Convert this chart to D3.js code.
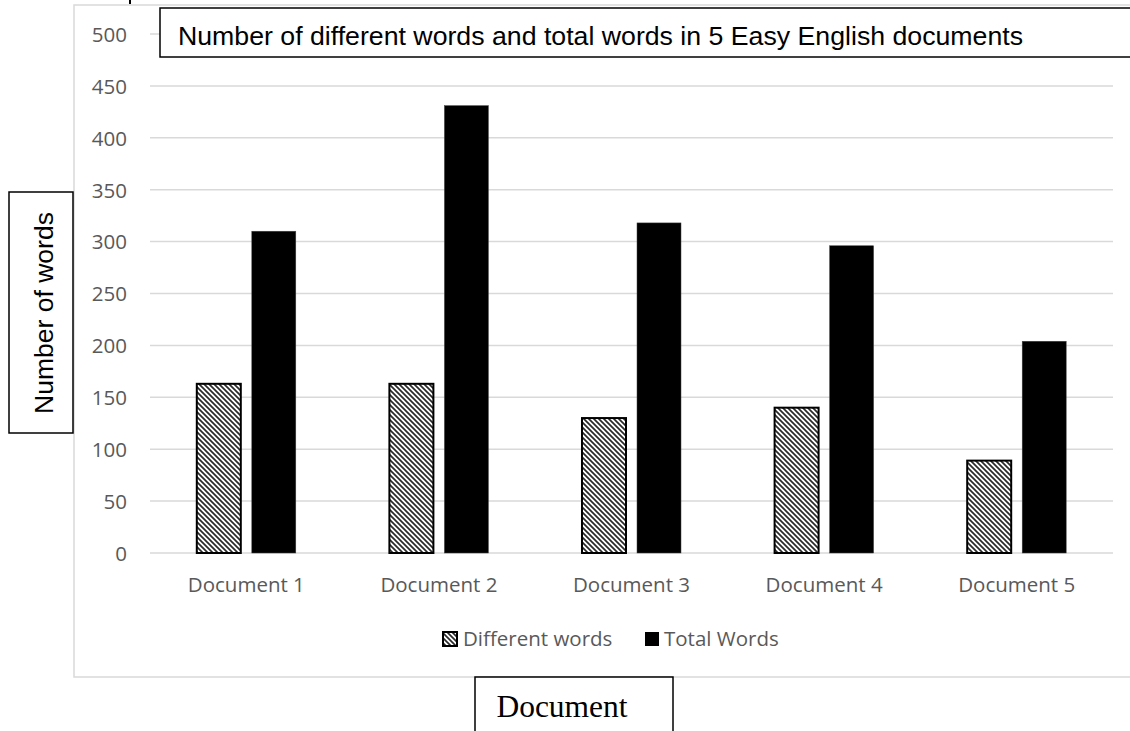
<!DOCTYPE html>
<html>
<head>
<meta charset="utf-8">
<script src="https://cdn.jsdelivr.net/npm/d3@7"></script>
<style>
html,body{margin:0;padding:0;background:#fff;}
svg{display:block;}
</style>
</head>
<body>
<script>
const categories = ["Document 1","Document 2","Document 3","Document 4","Document 5"];
const seriesNames = ["Different words","Total Words"];
const differentWords = [163,163,130,140,89];
const totalWords = [310,431,318,296,204];
const yTicks = [0,50,100,150,200,250,300,350,400,450,500];
const chartTitle = "Number of different words and total words in 5 Easy English documents";
const yTitle = "Number of words";
const xTitle = "Document";

const W = 1130, H = 731;
const svg = d3.select("body").append("svg").attr("width", W).attr("height", H);

const defs = svg.append("defs");
const pat = defs.append("pattern").attr("id","hatch").attr("patternUnits","userSpaceOnUse")
  .attr("width",5).attr("height",5);
pat.append("rect").attr("width",5).attr("height",5).attr("fill","#fff");
pat.append("path").attr("d","M-1,-1 L6,6 M-1,4 L1,6 M4,-1 L6,1")
  .attr("stroke","#2a2a2a").attr("stroke-width",1.7);

// outer chart frame
svg.append("rect").attr("x",74).attr("y",5).attr("width",1100).attr("height",672)
  .attr("fill","none").attr("stroke","#d9d9d9").attr("stroke-width",1.5);

// stray mark at top
svg.append("line").attr("x1",130).attr("x2",130).attr("y1",0).attr("y2",4)
  .attr("stroke","#000").attr("stroke-width",2);

const plotL = 150, plotR = 1113, plotT = 34, plotB = 553;
const x = d3.scaleBand().domain(categories).range([plotL, plotR]);
const y = d3.scaleLinear().domain([0,500]).range([plotB, plotT]);

// gridlines
svg.append("g").selectAll("line").data(yTicks).join("line")
  .attr("x1",plotL).attr("x2",plotR)
  .attr("y1",d=>y(d)).attr("y2",d=>y(d))
  .attr("stroke","#d9d9d9").attr("stroke-width",1.5);

// y axis labels
const yAxis = d3.axisLeft(y).tickValues(yTicks).tickSize(0).tickPadding(0);
const gy = svg.append("g").attr("transform","translate(127,0)").call(yAxis);
gy.select(".domain").remove();
gy.selectAll("text").attr("font-family","'Open Sans'").attr("font-size","20.5px")
  .attr("fill","#595959").attr("dy","0.36em");

// x axis labels
const xAxis = d3.axisBottom(x).tickSize(0).tickPadding(0);
const gx = svg.append("g").attr("transform","translate(0,577)").call(xAxis);
gx.select(".domain").remove();
gx.selectAll("text").attr("font-family","'Open Sans'").attr("font-size","20.5px")
  .attr("fill","#595959").attr("dy","0.72em");

// bars
const data = categories.map((c,i)=>({cat:c, vals:[differentWords[i], totalWords[i]]}));
const groupW = 99;
const groups = svg.append("g").selectAll("g").data(data).join("g");
groups.each(function(d){
  const cx = x(d.cat) + x.bandwidth()/2;
  const x1 = d3.scaleBand().domain(seriesNames).range([cx-groupW/2, cx+groupW/2]).paddingInner(0.2);
  const g = d3.select(this);
  g.append("rect").attr("x",x1(seriesNames[0])).attr("width",x1.bandwidth())
    .attr("y",y(d.vals[0])).attr("height",y(0)-y(d.vals[0]))
    .attr("fill","url(#hatch)").attr("stroke","#000").attr("stroke-width",2);
  g.append("rect").attr("x",x1(seriesNames[1])).attr("width",x1.bandwidth())
    .attr("y",y(d.vals[1])).attr("height",y(0)-y(d.vals[1]))
    .attr("fill","#000").attr("stroke","#444").attr("stroke-width",0.5);
});

// legend
const lg = svg.append("g");
lg.append("rect").attr("x",443).attr("y",632).attr("width",14).attr("height",14)
  .attr("fill","url(#hatch)").attr("stroke","#000").attr("stroke-width",2);
lg.append("text").attr("x",463).attr("y",646).text(seriesNames[0])
  .attr("font-family","'Open Sans'").attr("font-size","20.5px").attr("fill","#595959");
lg.append("rect").attr("x",645).attr("y",632).attr("width",14).attr("height",14).attr("fill","#000");
lg.append("text").attr("x",664).attr("y",646).text(seriesNames[1])
  .attr("font-family","'Open Sans'").attr("font-size","20.5px").attr("fill","#595959");

// title box
svg.append("rect").attr("x",160).attr("y",8).attr("width",1000).attr("height",49)
  .attr("fill","#fff").attr("stroke","#000").attr("stroke-width",1.5);
svg.append("text").attr("x",178).attr("y",45).text(chartTitle)
  .attr("font-family","'Liberation Sans', Arial").attr("font-size","26.7px").attr("fill","#000");

// y title box
svg.append("rect").attr("x",9).attr("y",192).attr("width",64).attr("height",241)
  .attr("fill","#fff").attr("stroke","#000").attr("stroke-width",1.5);
svg.append("text").attr("transform","translate(53,313) rotate(-90)")
  .attr("text-anchor","middle").text(yTitle)
  .attr("font-family","'Liberation Sans', Arial").attr("font-size","26.5px").attr("fill","#000");

// x title box
svg.append("rect").attr("x",475).attr("y",677).attr("width",198).attr("height",80)
  .attr("fill","#fff").attr("stroke","#000").attr("stroke-width",1.5);
svg.append("text").attr("x",562).attr("y",717).attr("text-anchor","middle").text(xTitle)
  .attr("font-family","'Liberation Serif', 'Times New Roman'").attr("font-size","31.5px").attr("fill","#000");
</script>
</body>
</html>
